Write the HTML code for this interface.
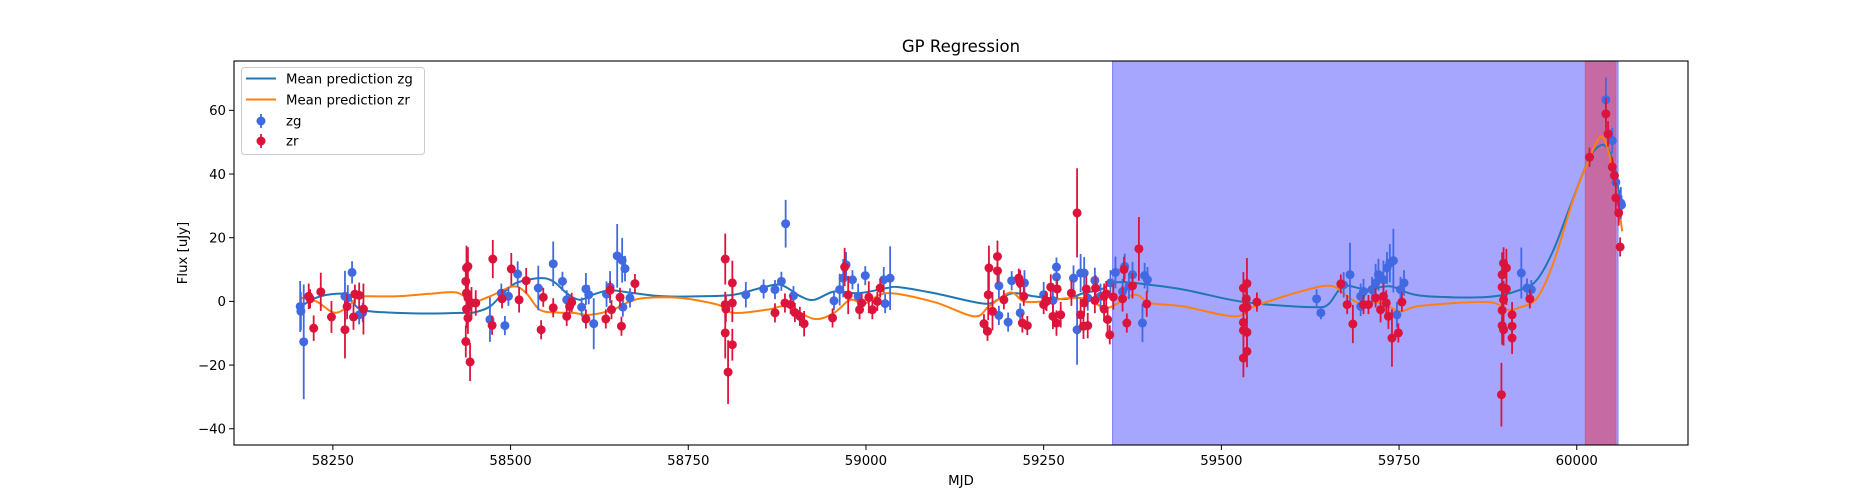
<!DOCTYPE html>
<html><head><meta charset="utf-8"><style>
html,body{margin:0;padding:0;background:#fff;}
svg{display:block;font-family:"DejaVu Sans","Liberation Sans",sans-serif;}
</style></head><body>
<svg id="chart" width="1875" height="500" viewBox="0 0 1875 500" xmlns="http://www.w3.org/2000/svg">
<rect x="0" y="0" width="1875" height="500" fill="#fff"/>
<g id="spans"></g>
<g id="curves"></g>
<g id="points"></g>
<g id="axes"></g>
<text x="961" y="52" font-size="16.5" text-anchor="middle" fill="#000">GP Regression</text>
<text x="961" y="485" font-size="13.3" text-anchor="middle" fill="#000">MJD</text>
<text x="187" y="253" font-size="13.3" text-anchor="middle" fill="#000" transform="rotate(-90 187 253)">Flux [uJy]</text>
<g>
<rect x="241.5" y="67.5" width="183" height="87" rx="3" fill="#fff" fill-opacity="0.8" stroke="#ccc"/>
<line x1="246" y1="78.5" x2="276" y2="78.5" stroke="#1f77b4" stroke-width="2"/>
<text x="286" y="83.5" font-size="13.3" fill="#000">Mean prediction zg</text>
<line x1="246" y1="99.5" x2="276" y2="99.5" stroke="#ff7f0e" stroke-width="2"/>
<text x="286" y="104.5" font-size="13.3" fill="#000">Mean prediction zr</text>
<line x1="261" y1="114" x2="261" y2="128" stroke="#4169e1" stroke-width="1.8"/>
<circle cx="261" cy="121" r="4.5" fill="#4169e1"/>
<text x="286" y="125.5" font-size="13.3" fill="#000">zg</text>
<line x1="261" y1="134" x2="261" y2="148" stroke="#dc143c" stroke-width="1.8"/>
<circle cx="261" cy="141" r="4.5" fill="#dc143c"/>
<text x="286" y="145.5" font-size="13.3" fill="#000">zr</text>
</g>
</svg>
<script>
const xTicks = [58250, 58500, 58750, 59000, 59250, 59500, 59750, 60000];
const yTicks = [-40, -20, 0, 20, 40, 60];
const blueSpan = [59347, 60058];
const redSpan = [60012, 60055];

const zgMjd = [58204,58205,58209,58267,58271,58277,58287,58292,58471,58487,58492,58497,58510,58539,58560,58573,58579,58600,58606,58610,58617,58635,58640,58650,58657,58661,58658,58668,58831,58856,58872,58881,58887,58898,58955,58963,58968,58972,58981,58999,58989,59027,59034,59025,59187,59205,59187,59200,59217,59223,59250,59263,59268,59268,59292,59297,59302,59307,59312,59322,59330,59344,59351,59364,59375,59361,59370,59389,59392,59396,59634,59640,59681,59672,59696,59700,59712,59717,59721,59728,59733,59742,59737,59757,59752,59747,59696,59922,59930,59936,60041,60050,60055,60062,60063];
const zgFlux = [-1.6,-3.1,-12.7,1.6,1.1,9.1,-4.2,-3.5,-5.7,2.6,-7.6,1.6,8.6,4.2,11.8,6.3,0.5,-1.8,3.9,2.1,-7,2.3,4.5,14.3,12.9,10.3,-1.8,1.1,2.1,3.9,3.7,6.3,24.4,1.8,0.2,3.7,7.3,11.5,6.8,8.1,1.6,-0.7,7.3,6.8,4.9,6.5,-4.4,-6.5,-3.6,5.8,2.1,0.3,10.8,7.7,7.3,-8.9,8.9,8.9,1.1,6.6,1.6,5.8,9.1,11,8.4,3.1,4.7,-6.8,8.1,6.8,0.8,-3.6,8.4,5.2,1.6,3.1,3.7,5.8,8.4,6.8,10.5,12.8,12,5.8,3.7,-4.2,-1.6,8.9,4.2,3.7,63.3,50.5,37.4,30.9,30.3];
const zgErr = [8,6,18,8,4,3.5,3,3,7,3,3,3,4,7,7,3,3,3,5,3,8,4,5,10,7,4,3,3,4,3,3,3,7.5,3,3,5,6,4,3,3,4,3,10,4,4,3,3,3,3,4,4,4,3,4,4,11,6,5,4,4,4,4,5,4,4,4,4,6,4,4,3,2,10,4,4,4,4,6,5,6,5,10,6,4,4,4,3,8,3,3,7,4,4,5,3];

const zrMjd = [58216,58218,58223,58233,58248,58267,58270,58279,58281,58287,58293,58438,58440,58437,58438,58440,58438,58440,58437,58443,58445,58451,58474,58475,58488,58501,58512,58522,58543,58546,58560,58579,58583,58586,58606,58640,58642,58654,58656,58675,58634,58802,58802,58803,58802,58812,58806,58812,58812,58872,58886,58894,58900,58907,58913,58953,58970,58975,58991,58994,59004,59009,59016,59020,59166,59172,59173,59185,59185,59178,59171,59194,59215,59217,59222,59220,59227,59250,59254,59253,59260,59263,59268,59269,59274,59289,59297,59302,59307,59306,59312,59310,59323,59322,59335,59335,59340,59343,59338,59348,59361,59363,59375,59367,59384,59395,59531,59536,59535,59531,59536,59531,59531,59536,59536,59531,59550,59668,59677,59685,59700,59707,59717,59724,59728,59732,59735,59740,59749,59754,59897,59901,59895,59895,59901,59897,59895,59909,59895,59909,59897,59909,59894,59934,60018,60041,60044,60050,60053,60055,60059,60061];
const zrFlux = [1.6,0.8,-8.4,3,-4.9,-8.9,-1.6,-4.9,2.3,1.9,-2.4,10.5,11,6.3,2.6,1.1,-2.4,-5.2,-12.6,-19,-0.5,-0.5,-7.5,13.3,0.8,10.2,0.5,6.5,-8.9,1.3,-2,-4.7,-1.6,-0.3,-5.5,3.5,-2.6,1.3,-7.8,5.6,-5.5,13.3,-1,-2.4,-9.9,-13.6,-22.2,5.8,-0.5,-3.6,-0.5,-1,-3.5,-4.7,-7,-5.2,10.8,2,-2.6,-0.5,1.3,-2.6,0,4.2,-7,2.1,10.5,14.1,9.6,-3.1,-9.4,0.5,7.3,5.8,1.6,-6.8,-7.6,-1,0,0.3,4.5,-4.7,-6.8,3.9,-4.2,2.6,27.8,-4.2,-0.5,-7.8,-7.6,3.9,4.2,0.3,1.6,-2.4,-5.7,-10.5,2.4,1.4,0.8,10,4.9,-6.8,16.5,-0.8,4.2,5.6,0.8,-2.1,-1.8,-6.6,-9.1,-9.7,-15.7,-17.8,-0.2,5.5,-1,-7.1,-1,-1,1.1,-2.6,1.6,-0.5,-4.7,-11.5,-9.9,-0.2,12,10.5,8.4,4.5,3.9,0.5,-2.8,-4.2,-7.6,-7.8,-8.9,-11.5,-29.3,0.8,45.3,58.9,52.6,42.2,39.5,32.5,27.8,17.1];
const zrErr = [4,3,4,6,5,9,4,4,3,4,8,7,6,5,5,5,6,5,5,6,5,4,3,6,3,5,4,4,3,3,3,3,3,3,3,3,3,3,3,3,3,8,4,4,8,5,10,7,6,3,3,3,3,3,4,3,6,6,3,3,5,3,3,3,3,8,7,5,4,6,3,3,3,4,3,3,3,3,3,3,4,4,4,3,4,4,14,5,4,4,4,4,4,4,4,4,4,3,4,4,4,4,4,3,10,4,5,8,5,5,5,5,5,5,5,6,3,3,3,6,3,3,3,4,4,4,4,9,3,3,5,6,7,6,5,6,8,4,6,4,5,5,10,3,3,5,4,3,3,5,4,3];

const zgCurveMjd = [58205,58227,58255,58270,58285,58302,58340,58386,58433,58450,58471,58490,58508,58541,58560,58579,58597,58616,58640,58673,58715,58767,58814,58852,58880,58908,58927,58955,58983,58998,59030,59046,59096,59166,59189,59208,59236,59260,59283,59306,59330,59353,59400,59447,59518,59565,59630,59650,59672,59705,59738,59780,59874,59921,59944,59967,59991,60018,60036,60048,60056,60064];
const zgCurveFlux = [-1.6,1.2,2.4,1.8,-2,-3.1,-3.6,-3.8,-3.6,-3.4,-1.6,2.6,5.8,7.3,6.3,2.6,0.5,2.1,3.5,2.6,1.6,1.6,2.1,4.2,5.2,1.6,0.5,3.1,2.6,2.8,4.2,4.5,2.6,-0.7,1,2.6,1.6,1,0.8,2.6,3.7,6,5.2,3.7,0.3,-1,-1.8,-1,4.7,3.7,4.7,1.8,1.4,3.7,6.8,16,30,45,49.2,46,38,30];
const zrCurveMjd = [58205,58227,58251,58269,58283,58293,58340,58386,58424,58447,58471,58504,58522,58541,58565,58588,58612,58644,58668,58691,58738,58791,58814,58861,58889,58927,58955,58978,58998,59030,59096,59152,59173,59203,59222,59250,59283,59311,59340,59377,59400,59447,59518,59546,59611,59654,59677,59696,59724,59752,59780,59874,59902,59921,59944,59967,59995,60018,60034,60046,60056,60064];
const zrCurveFlux = [1.1,0,-3.5,-2,1,1.6,1.6,2.4,2.8,0,1.6,4.7,2.6,-2.6,-3.5,-3.6,-4.2,-2.6,0,1.1,1.1,-1,-3.6,-2.6,-1.6,-5.5,-3.6,0.5,-0.7,2.6,-0.2,-4.7,-1.6,2.8,0,0,1,0.8,-2,2.1,-0.5,-1.6,-4.7,-1.6,3.1,4.9,1.6,-0.7,-0.5,-3.1,-1.4,-0.2,-2.6,-1.8,1,12,32,45,51.7,46,34,22];

const AX = {left:234, right:1688, top:61, bottom:445};
const xMin = 58110.9, xMax = 60156.5, yMin = -45.1, yMax = 75.5;
function xs(m){ return AX.left + (m - xMin) / (xMax - xMin) * (AX.right - AX.left); }
function ys(v){ return AX.bottom - (v - yMin) / (yMax - yMin) * (AX.bottom - AX.top); }
const NS = "http://www.w3.org/2000/svg";
function mk(tag, parent){ const e = document.createElementNS(NS, tag); parent.appendChild(e); return e; }

// spans
const spans = document.getElementById('spans');
const bs = mk('rect', spans);


bs.setAttribute('x', xs(blueSpan[0])); bs.setAttribute('y', AX.top);
bs.setAttribute('width', xs(blueSpan[1]) - xs(blueSpan[0])); bs.setAttribute('height', AX.bottom - AX.top);
bs.setAttribute('fill', 'rgb(0,0,255)'); bs.setAttribute('fill-opacity', '0.35');
bs.setAttribute('stroke', 'rgb(120,120,250)'); bs.setAttribute('stroke-width', '1');
const rs = mk('rect', spans);


rs.setAttribute('x', xs(redSpan[0])); rs.setAttribute('y', AX.top);
rs.setAttribute('width', xs(redSpan[1]) - xs(redSpan[0])); rs.setAttribute('height', AX.bottom - AX.top);
rs.setAttribute('fill', 'rgb(255,0,0)'); rs.setAttribute('fill-opacity', '0.36');
rs.setAttribute('stroke', 'rgb(210,90,140)'); rs.setAttribute('stroke-width', '1');

// curves (Catmull-Rom through knots)
function curvePath(mx, fy){
  const p = mx.map((m,i)=>[xs(m), ys(fy[i])]);
  let d = 'M' + p[0][0].toFixed(2) + ',' + p[0][1].toFixed(2);
  for (let i=0;i<p.length-1;i++){
    const p0 = p[Math.max(0,i-1)], p1 = p[i], p2 = p[i+1], p3 = p[Math.min(p.length-1,i+2)];
    const c1 = [p1[0]+(p2[0]-p0[0])/6, p1[1]+(p2[1]-p0[1])/6];
    const c2 = [p2[0]-(p3[0]-p1[0])/6, p2[1]-(p3[1]-p1[1])/6];
    d += ' C' + c1[0].toFixed(2)+','+c1[1].toFixed(2)+' '+c2[0].toFixed(2)+','+c2[1].toFixed(2)+' '+p2[0].toFixed(2)+','+p2[1].toFixed(2);
  }
  return d;
}
const curves = document.getElementById('curves');
const cg = mk('path', curves);


cg.setAttribute('d', curvePath(zgCurveMjd, zgCurveFlux));
cg.setAttribute('fill', 'none'); cg.setAttribute('stroke', '#1f77b4'); cg.setAttribute('stroke-width', '2');
const cr = mk('path', curves);


cr.setAttribute('d', curvePath(zrCurveMjd, zrCurveFlux));
cr.setAttribute('fill', 'none'); cr.setAttribute('stroke', '#ff7f0e'); cr.setAttribute('stroke-width', '2');

// points
const pts = document.getElementById('points');
function drawSeries(mjd, flux, err, color, name){
  const g = mk('g', pts);
  
  
  for (let i=0;i<mjd.length;i++){
    const x = xs(mjd[i]);
    const l = mk('line', g);
    
    
    l.setAttribute('x1', x); l.setAttribute('x2', x);
    l.setAttribute('y1', ys(flux[i]-err[i])); l.setAttribute('y2', ys(flux[i]+err[i]));
    l.setAttribute('stroke', color); l.setAttribute('stroke-width', '1.8');
    const c = mk('circle', g);
    
    
    c.setAttribute('cx', x); c.setAttribute('cy', ys(flux[i])); c.setAttribute('r', '4.5');
    c.setAttribute('fill', color);
  }
}
drawSeries(zgMjd, zgFlux, zgErr, '#4169e1', 'zg');
drawSeries(zrMjd, zrFlux, zrErr, '#dc143c', 'zr');

// axes
const axes = document.getElementById('axes');
const frame = mk('rect', axes);


frame.setAttribute('x', AX.left); frame.setAttribute('y', AX.top);
frame.setAttribute('width', AX.right-AX.left); frame.setAttribute('height', AX.bottom-AX.top);
frame.setAttribute('fill', 'none'); frame.setAttribute('stroke', '#000'); frame.setAttribute('stroke-width', '1.1');
xTicks.forEach(t=>{
  const x = xs(t);
  const l = mk('line', axes);
  
  
  l.setAttribute('x1', x); l.setAttribute('x2', x); l.setAttribute('y1', AX.bottom); l.setAttribute('y2', AX.bottom+5);
  l.setAttribute('stroke', '#000'); l.setAttribute('stroke-width', '1');
  const tx = mk('text', axes);
  
  
  tx.setAttribute('x', x); tx.setAttribute('y', AX.bottom+20); tx.setAttribute('font-size', '13.3');
  tx.setAttribute('text-anchor', 'middle'); tx.textContent = String(t);
});
yTicks.forEach(t=>{
  const y = ys(t);
  const l = mk('line', axes);
  
  
  l.setAttribute('x1', AX.left-5); l.setAttribute('x2', AX.left); l.setAttribute('y1', y); l.setAttribute('y2', y);
  l.setAttribute('stroke', '#000'); l.setAttribute('stroke-width', '1');
  const tx = mk('text', axes);
  
  
  tx.setAttribute('x', AX.left-8); tx.setAttribute('y', y+4.8); tx.setAttribute('font-size', '13.3');
  tx.setAttribute('text-anchor', 'end'); tx.textContent = t < 0 ? '\u2212' + Math.abs(t) : String(t);
});
</script>
</body></html>
